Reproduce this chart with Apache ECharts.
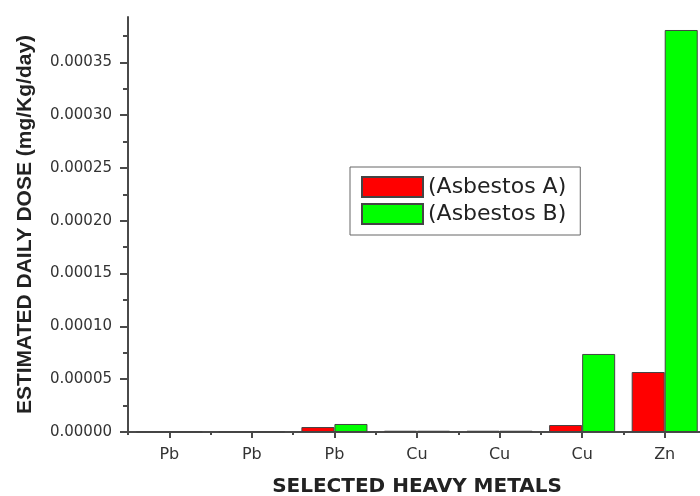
<!DOCTYPE html>
<html>
<head>
<meta charset="utf-8">
<script src="https://cdn.jsdelivr.net/npm/echarts@6/dist/echarts.min.js"></script>
<style>
html,body{margin:0;padding:0;background:#fff;overflow:hidden;}
#chart{width:700px;height:496px;}
</style>
</head>
<body>
<div id="chart"></div>
<script>
const categories = ['Pb', 'Pb', 'Pb', 'Cu', 'Cu', 'Cu', 'Zn'];
const asbestosA = [0.0000002, 0.0000002, 0.0000047, 0.0000012, 0.0000012, 0.0000066, 0.0000568];
const asbestosB = [0.0000003, 0.0000003, 0.0000076, 0.0000012, 0.0000012, 0.0000739, 0.0003807];
const seriesNames = ['(Asbestos A)', '(Asbestos B)'];
const yTicks = [0, 0.00005, 0.0001, 0.00015, 0.0002, 0.00025, 0.0003, 0.00035];
const yMax = 0.000393;
const yInterval = 0.00005;

const chart = echarts.init(document.getElementById('chart'), null, {renderer: 'canvas'});
const font = 'DejaVu Sans, sans-serif';
const axisColor = '#4a4a4a';
chart.setOption({
  animation: false,
  textStyle: {fontFamily: font},
  grid: {left: 128, right: -6, top: 17, bottom: 64, containLabel: false, outerBoundsMode: 'none'},
  legend: {
    orient: 'vertical',
    left: 350, top: 167,
    padding: [9, 14, 10, 11],
    itemGap: 5,
    itemWidth: 61, itemHeight: 20,
    borderColor: '#666', borderWidth: 1,
    icon: 'rect',
    textStyle: {fontSize: 22, lineHeight: 22, color: '#222', fontFamily: font},
    data: seriesNames
  },
  xAxis: [{
    type: 'category',
    data: categories,
    position: 'bottom',
    name: 'SELECTED HEAVY METALS',
    nameLocation: 'middle',
    nameGap: 45,
    nameTextStyle: {fontSize: 20, fontWeight: 'bold', color: '#222', fontFamily: font},
    axisLine: {show: true, lineStyle: {color: axisColor, width: 2}},
    axisTick: {show: true, alignWithLabel: true, length: 6, lineStyle: {color: axisColor, width: 2}},
    axisLabel: {fontSize: 16, color: '#333', margin: 15, fontFamily: font},
    splitLine: {show: false}
  }, {
    type: 'category',
    data: categories,
    position: 'bottom',
    axisLine: {show: false},
    axisTick: {show: true, length: 3, lineStyle: {color: axisColor, width: 2}},
    axisLabel: {show: false},
    splitLine: {show: false}
  }],
  yAxis: {
    type: 'value',
    min: 0, max: yMax, interval: yInterval,
    name: 'ESTIMATED DAILY DOSE (mg/Kg/day)',
    nameLocation: 'middle',
    nameGap: 92,
    nameTextStyle: {fontSize: 21, fontWeight: 'bold', color: '#222', fontFamily: 'Liberation Sans, Arial, sans-serif'},
    axisLine: {show: true, lineStyle: {color: axisColor, width: 2}},
    axisTick: {show: true, length: 8, customValues: yTicks, lineStyle: {color: axisColor, width: 2}},
    minorTick: {show: true, splitNumber: 2, length: 5, lineStyle: {color: axisColor, width: 2}},
    axisLabel: {
      fontSize: 15, color: '#333', margin: 16, fontFamily: font,
      customValues: yTicks,
      formatter: v => v.toFixed(5)
    },
    splitLine: {show: false},
    minorSplitLine: {show: false}
  },
  series: [{
    name: seriesNames[0],
    type: 'bar',
    data: asbestosA,
    barGap: '0%',
    barCategoryGap: '20%',
    itemStyle: {color: '#ff0000', borderColor: '#444', borderWidth: 1}
  }, {
    name: seriesNames[1],
    type: 'bar',
    data: asbestosB,
    barGap: '0%',
    barCategoryGap: '20%',
    itemStyle: {color: '#00ff00', borderColor: '#444', borderWidth: 1}
  }]
});
</script>
</body>
</html>
